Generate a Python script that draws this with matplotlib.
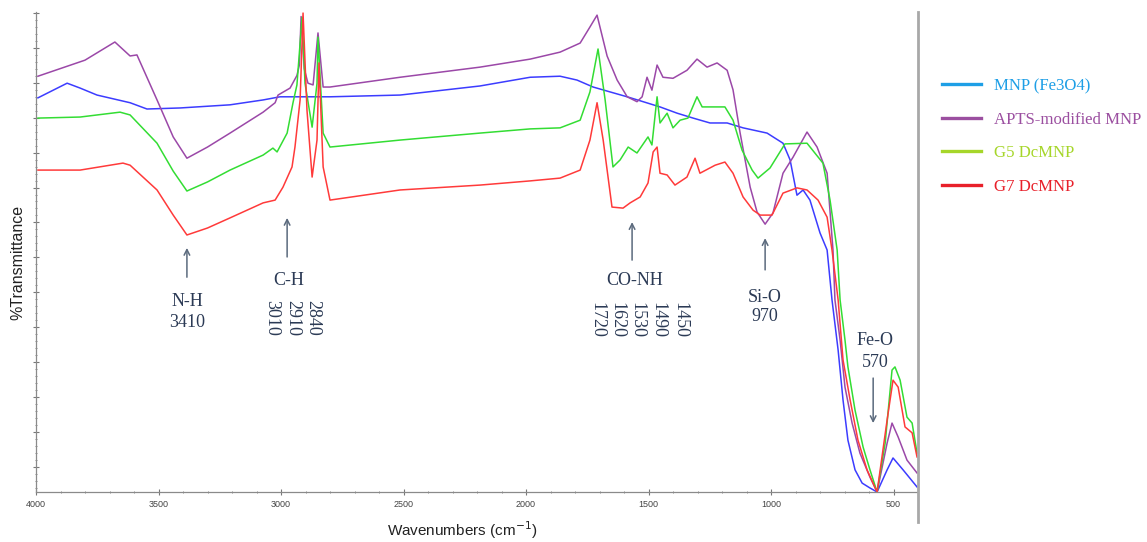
import numpy as np
import matplotlib
matplotlib.use("Agg")
import matplotlib.pyplot as plt
from matplotlib.lines import Line2D
from matplotlib.ticker import MultipleLocator

# FTIR spectra, wavenumber (cm-1) vs transmittance (arbitrary offset units)
wn_mnp = [3992, 3873, 3820, 3751, 3616, 3547, 3412, 3208, 3073, 3004, 2914, 2800,
          2514, 2188, 1983, 1861, 1792, 1726, 1657, 1587, 1522, 1453, 1383, 1318,
          1249, 1179, 1114, 1016, 951, 922, 894, 869, 841, 800, 771, 751, 726, 706,
          686, 657, 628, 596, 567, 526, 502, 461, 404]
t_mnp = [115.7, 119.9, 118.5, 116.5, 114.3, 112.5, 112.8, 113.7, 115.1, 116.0, 116.0, 116.0,
         116.5, 119.1, 121.6, 121.9, 120.8, 118.8, 117.4, 116.0, 114.6, 113.1, 111.3, 109.9,
         108.5, 108.5, 107.1, 105.6, 102.7, 97.9, 87.8, 89.3, 86.4, 77.0, 72.1, 57.8, 43.4, 29.1,
         17.6, 9.1, 5.3, 3.9, 2.75, 9.1, 12.5, 9.1, 4.2]

wn_apts = [3992, 3800, 3678, 3616, 3588, 3506, 3440, 3384, 3300, 3208, 3073, 3024, 3012, 2963,
           2935, 2925, 2918, 2905, 2890, 2869, 2849, 2828, 2800, 2514, 2188, 1983, 1861, 1779,
           1739, 1710, 1669, 1628, 1587, 1547, 1526, 1506, 1486, 1465, 1441, 1400, 1343, 1302,
           1261, 1220, 1179, 1155, 1126, 1085, 1057, 1024, 992, 951, 910, 853, 812, 771,
           747, 739, 718, 698, 669, 637, 596, 567, 526, 506, 481, 445, 404]
t_apts = [121.9, 126.5, 131.7, 127.7, 128.0, 115.1, 104.5, 98.4, 101.6, 105.6, 111.6, 114.3, 116.5,
          118.5, 122.1, 125.1, 139.0, 124.0, 119.9, 119.4, 134.3, 118.8, 118.8, 121.6, 124.5, 126.8,
          128.8, 131.4, 136.0, 139.4, 127.7, 120.8, 116.0, 114.6, 116.0, 121.6, 117.9, 125.1, 121.6,
          121.3, 123.6, 126.8, 124.5, 125.7, 123.6, 118.0, 105.6, 90.1, 83.0, 79.5, 82.7, 94.1, 98.7,
          105.9, 101.6, 94.1, 72.1, 57.8, 46.3, 32.8, 22.5, 13.9, 7.0, 2.75, 16.8, 22.5, 18.5, 11.9, 8.2]

wn_g5 = [3992, 3820, 3657, 3616, 3506, 3440, 3384, 3300, 3208, 3073, 3033, 3016, 2975, 2951,
         2935, 2914, 2902, 2873, 2853, 2849, 2828, 2800, 2514, 2188, 1983, 1861, 1779, 1739,
         1706, 1677, 1645, 1616, 1583, 1547, 1502, 1486, 1465, 1453, 1424, 1400, 1371,
         1339, 1302, 1281, 1220, 1188, 1155, 1118, 1077, 1053, 1004, 943, 853, 788, 759,
         730, 718, 698, 686, 657, 624, 596, 567, 534, 506, 494, 473, 445, 424, 404]
t_g5 = [109.9, 110.2, 111.6, 110.8, 102.7, 94.7, 89.0, 91.6, 95.0, 99.3, 101.3, 100.2, 105.6, 114.3,
        119.4, 138.8, 119.9, 107.3, 119.9, 133.1, 105.6, 101.6, 103.6, 105.6, 106.8, 107.1, 109.3,
        117.4, 129.7, 115.1, 95.9, 97.9, 101.6, 99.9, 104.5, 102.2, 116.0, 108.5, 111.3, 107.1,
        109.3, 109.9, 116.0, 113.1, 113.1, 113.1, 109.3, 100.7, 95.0, 92.7, 95.6, 102.5, 102.7,
        97.0, 86.4, 72.1, 57.8, 46.3, 38.6, 26.2, 15.6, 9.1, 2.75, 16.8, 37.7, 38.6, 34.8, 24.2,
        22.5, 13.9]

wn_g7 = [3992, 3820, 3645, 3616, 3506, 3440, 3384, 3300, 3208, 3073, 3024, 2992, 2955, 2943,
         2922, 2910, 2894, 2873, 2853, 2845, 2828, 2800, 2514, 2188, 1983, 1861, 1779, 1739,
         1710, 1685, 1649, 1604, 1575, 1534, 1502, 1481, 1465, 1453, 1424, 1392, 1343,
         1310, 1290, 1228, 1188, 1155, 1114, 1073, 1044, 996, 951, 894, 853, 808, 771,
         751, 726, 706, 677, 645, 608, 567, 526, 502, 481, 453, 424, 404]
t_g7 = [95.0, 95.0, 97.0, 96.4, 89.3, 82.1, 76.4, 78.4, 81.3, 85.6, 86.4, 90.1, 95.9, 101.6,
        115.1, 140.0, 112.2, 93.0, 103.6, 125.7, 95.9, 86.4, 89.3, 90.7, 91.9, 92.7, 95.0, 103.6,
        114.3, 103.6, 84.4, 84.1, 85.6, 87.3, 91.3, 100.2, 101.6, 94.1, 93.6, 90.7, 93.0,
        98.4, 94.1, 96.4, 97.3, 94.1, 87.3, 83.5, 82.1, 82.1, 88.4, 89.9, 89.3, 86.4, 81.5,
        72.1, 57.8, 40.6, 29.1, 17.6, 9.1, 2.75, 23.4, 34.8, 32.8, 21.4, 19.7, 12.8]

legend_labels = ["MNP (Fe3O4)", "APTS-modified MNP", "G5 DcMNP", "G7 DcMNP"]
legend_colors = ["#1e9fe6", "#9b4fa0", "#a6d62a", "#e8202a"]
line_colors = ["#3c3cff", "#9b48a8", "#33dd33", "#ff3a3a"]

text_col = "#2b3a55"
arrow_col = "#5b6a7d"
serif = "Liberation Serif"

fig = plt.figure(figsize=(11.47, 5.42), dpi=100)
ax = fig.add_axes([36 / 1147, 50 / 542, 882 / 1147, 480 / 542])

for wn, t, c in zip([wn_mnp, wn_apts, wn_g5, wn_g7], [t_mnp, t_apts, t_g5, t_g7], line_colors):
    ax.plot(wn, t, color=c, lw=1.1)

ax.set_xlim(4000, 400)
ax.set_ylim(2.75, 140.3)
ax.xaxis.set_major_locator(MultipleLocator(500))
ax.xaxis.set_minor_locator(MultipleLocator(100))
ax.set_xticks(np.arange(4000, 499, -500))
ax.yaxis.set_major_locator(MultipleLocator(10))
ax.yaxis.set_minor_locator(MultipleLocator(2))
ax.set_yticklabels([])
ax.tick_params(axis="both", which="major", direction="inout", length=4, width=0.8, color="#777777")
ax.tick_params(axis="both", which="minor", direction="inout", length=2, width=0.6, color="#777777")
ax.tick_params(axis="x", labelsize=6.5, labelcolor="#444444", pad=4)
for lab in ax.get_xticklabels():
    lab.set_family("Liberation Sans")
for s in ["top", "right"]:
    ax.spines[s].set_visible(False)
for s in ["left", "bottom"]:
    ax.spines[s].set_color("#8a8a8a")
    ax.spines[s].set_linewidth(0.9)

# long gray rule on the right side
fig.add_artist(Line2D([918 / 1147, 918 / 1147], [1 - 12 / 542, 1 - 522 / 542],
                      transform=fig.transFigure, color="#a8a8a8", lw=2))

fig.text(462 / 1147, 1 - 530 / 542, "Wavenumbers (cm$^{-1}$)", ha="center", va="center",
         fontsize=11, family="Liberation Sans", color="#222222")
fig.text(18 / 1147, 1 - 262 / 542, "%Transmittance", ha="center", va="center",
         rotation=90, fontsize=11.5, family="Liberation Sans", color="#222222")

arw = dict(arrowstyle="->", color=arrow_col, lw=1.1, shrinkA=0, shrinkB=0)
tk = dict(fontsize=13, family=serif, color=text_col, ha="center", va="center")

# N-H
ax.annotate("", xy=(3384, 72.7), xytext=(3384, 64.3), arrowprops=arw)
ax.text(3384, 57.2, "N-H", **tk)
ax.text(3384, 51.2, "3410", **tk)

# C-H
ax.annotate("", xy=(2975, 81.3), xytext=(2975, 70.1), arrowprops=arw)
ax.text(2967, 63.5, "C-H", **tk)
for x, s in zip([3037, 2951, 2869], ["3010", "2910", "2840"]):
    ax.text(x, 57.8, s, fontsize=13, family=serif, color=text_col, rotation=270,
            ha="center", va="top")

# CO-NH
ax.annotate("", xy=(1567, 80.1), xytext=(1567, 69.2), arrowprops=arw)
ax.text(1555, 63.5, "CO-NH", **tk)
for x, s in zip([1710, 1628, 1547, 1461, 1371], ["1720", "1620", "1530", "1490", "1450"]):
    ax.text(x, 57.2, s, fontsize=13, family=serif, color=text_col, rotation=270,
            ha="center", va="top")

# Si-O
ax.annotate("", xy=(1024, 75.5), xytext=(1024, 66.4), arrowprops=arw)
ax.text(1024, 58.6, "Si-O", **tk)
ax.text(1024, 52.9, "970", **tk)

# Fe-O
ax.text(575, 46.3, "Fe-O", **tk)
ax.text(575, 40.0, "570", **tk)
ax.annotate("", xy=(583, 22.5), xytext=(583, 35.4), arrowprops=arw)

handles = [Line2D([], [], color=c, lw=2.4) for c in legend_colors]
leg = fig.legend(handles, legend_labels, loc="upper left",
                 bbox_to_anchor=(942 / 1147, 1 - 78 / 542), frameon=False,
                 borderpad=0, borderaxespad=0, handlelength=2.3, handletextpad=0.8,
                 labelspacing=1.05, prop={"family": serif, "size": 12.1},
                 labelcolor=legend_colors)

fig.savefig("out.png", dpi=100)
